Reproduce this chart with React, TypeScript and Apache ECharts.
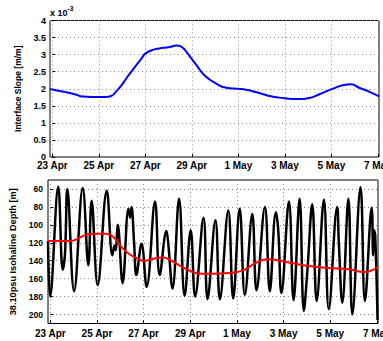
import React, { useEffect, useRef } from "react";
import * as echarts from "echarts";

// x positions are days after 23 Apr (0 = 23 Apr, 14 = 7 May)
const tickDays = [0, 2, 4, 6, 8, 10, 12, 14];
const tickLabels = ["23 Apr", "25 Apr", "27 Apr", "29 Apr", "1 May", "3 May", "5 May", "7 May"];

// Interface slope, in units of 1e-3 m/m
const slopeDays = [-0.1, 0, 0.5, 1.0, 1.3, 1.7, 2.0, 2.3, 2.5, 2.76, 3.0, 3.18, 3.4, 3.62, 3.85, 4.0, 4.33, 4.6, 4.9, 5.1, 5.34, 5.5, 5.7, 5.91, 6.2, 6.55, 7.05, 7.48, 7.98, 8.34, 8.7, 9.06, 9.4, 9.77, 10.34, 10.7, 11.06, 11.49, 11.99, 12.49, 12.85, 13.2, 13.64, 14.05];
const slopeValues = [1.99, 1.98, 1.91, 1.83, 1.77, 1.76, 1.76, 1.76, 1.78, 1.93, 2.12, 2.3, 2.5, 2.7, 2.9, 3.03, 3.14, 3.18, 3.21, 3.23, 3.27, 3.25, 3.14, 2.95, 2.69, 2.39, 2.15, 2.03, 2.0, 1.97, 1.91, 1.84, 1.78, 1.74, 1.7, 1.7, 1.73, 1.84, 1.98, 2.1, 2.13, 2.03, 1.91, 1.78];

// 38.10 psu isohaline depth (m), raw
const depthDays = [-0.1, -0.01, 0.34, 0.53, 0.63, 0.73, 1.02, 1.39, 1.63, 1.77, 2.03, 2.42, 2.66, 2.75, 2.8, 2.89, 3.1, 3.35, 3.42, 3.48, 3.59, 3.69, 3.91, 4.13, 4.49, 4.69, 4.98, 5.05, 5.24, 5.52, 5.76, 6.02, 6.21, 6.57, 6.74, 7.08, 7.27, 7.63, 7.84, 8.12, 8.34, 8.66, 8.84, 9.2, 9.41, 9.67, 9.77, 9.91, 10.23, 10.43, 10.69, 10.87, 11.02, 11.23, 11.42, 11.73, 11.94, 12.3, 12.37, 12.52, 12.78, 12.95, 13.3, 13.49, 13.78, 13.84, 13.88, 13.93, 14.03];
const depthValues = [118, 180, 57.5, 150, 132, 60, 174, 59, 145, 73, 167, 62, 134, 123, 128, 100, 165, 82, 92, 80, 119, 156, 121, 169, 74, 156, 107, 119, 171, 71, 179, 106, 180, 92, 183, 95, 183, 84, 182, 82, 178, 88, 173, 80, 174, 86, 105, 176, 74, 184, 71, 196, 152, 77, 185, 72, 194, 80, 120, 187, 71, 200, 58, 185, 81, 134, 106, 112, 206];

// low-passed depth (m)
const filtDays = [-0.1, 0.84, 1.13, 1.56, 1.99, 2.35, 2.7, 3.06, 3.35, 3.73, 4.02, 4.45, 4.81, 5.16, 5.59, 6.02, 6.45, 6.95, 7.77, 8.34, 8.77, 9.34, 9.77, 10.34, 11.09, 11.94, 12.8, 13.45, 13.81, 14.03];
const filtValues = [118, 118, 116, 111, 110, 110, 113.5, 125, 132, 137.5, 140, 137.5, 136.5, 139.5, 146, 151.5, 154.5, 154.5, 153.5, 150, 143, 138.5, 139.5, 142.5, 146, 148, 149.5, 152.5, 150.5, 147];

const FONT = "Liberation Sans, Arial, Helvetica, sans-serif";

export default function App() {
  const ref = useRef<HTMLDivElement>(null);
  useEffect(() => {
    if (!ref.current) return;
    const chart = echarts.init(ref.current, undefined, { renderer: "svg" });

    const XMIN = -0.1, XMAX = 14.05;
    const XSPAN = XMAX - XMIN;
    const LABEL_XMAX = 16; // label axis runs past the frame so that "7 May" is not the end label
    // top panel frame
    const L1 = 50, W1 = 329, T1 = 20.5, H1 = 136.5;
    // bottom panel frame
    const L2 = 48, W2 = 330, T2 = 180, H2 = 143.5;
    const YMIN = 50, YMAX = 210;
    const DMIN = 60, DMAX = 200;

    const gridStyle = { type: [1, 3] as any, color: "#8a8a8a", width: 1 };
    const tickLabelFmt = (v: number) => {
      const i = tickDays.indexOf(Math.round(v * 1000) / 1000);
      return i >= 0 ? tickLabels[i] : "";
    };
    const hiddenX = (grid: number) => ({ type: "value", gridIndex: grid, min: XMIN, max: XMAX, show: false });
    const hiddenY = (grid: number, min = 0, max = 1, inverse = false) => ({ type: "value", gridIndex: grid, min, max, inverse, show: false });
    const labelX = (grid: number, margin: number) => ({
      type: "value",
      gridIndex: grid,
      min: 0,
      max: LABEL_XMAX,
      interval: 2,
      axisLine: { show: false },
      axisTick: { show: true, inside: true, length: 3, lineStyle: { color: "#000" } },
      axisLabel: {
        formatter: tickLabelFmt,
        color: "#000",
        fontWeight: "bold",
        fontSize: 10,
        fontFamily: FONT,
        margin,
        hideOverlap: false,
        alignMinLabel: "center",
        alignMaxLabel: "center",
      },
      splitLine: { show: true, lineStyle: gridStyle },
    });
    const base = { outerBoundsMode: "none", containLabel: false };

    const option: any = {
      animation: false,
      backgroundColor: "#fff",
      grid: [
        { ...base, left: L1, top: T1, width: W1, height: H1, show: true, borderColor: "#000", borderWidth: 1, backgroundColor: "transparent" },
        { ...base, left: L1 + ((0 - XMIN) / XSPAN) * W1, top: T1, width: (LABEL_XMAX / XSPAN) * W1, height: H1 },
        { ...base, left: L2, top: T2, width: W2, height: H2, show: true, borderColor: "#000", borderWidth: 1, backgroundColor: "transparent" },
        { ...base, left: L2 + ((0 - XMIN) / XSPAN) * W2, top: T2, width: (LABEL_XMAX / XSPAN) * W2, height: H2 },
        { ...base, left: L2, top: T2 + ((DMIN - YMIN) / (YMAX - YMIN)) * H2, width: W2, height: ((DMAX - DMIN) / (YMAX - YMIN)) * H2 },
      ],
      xAxis: [hiddenX(0), labelX(1, 3), hiddenX(2), labelX(3, 4.5), hiddenX(4)],
      yAxis: [
        {
          type: "value",
          gridIndex: 0,
          min: 0,
          max: 4,
          interval: 0.5,
          axisLine: { show: false },
          axisTick: { show: true, inside: true, length: 3, lineStyle: { color: "#000" } },
          axisLabel: { color: "#000", fontWeight: "bold", fontSize: 9, fontFamily: FONT, margin: 4 },
          splitLine: { show: true, lineStyle: gridStyle },
          name: "Interface Slope [m/m]",
          nameLocation: "middle",
          nameGap: 24,
          nameTextStyle: { color: "#000", fontWeight: "bold", fontSize: 8.5, fontFamily: FONT },
        },
        hiddenY(1),
        hiddenY(2, YMIN, YMAX, true),
        hiddenY(3),
        {
          type: "value",
          gridIndex: 4,
          min: DMIN,
          max: DMAX,
          interval: 20,
          inverse: true,
          axisLine: { show: false },
          axisTick: { show: true, inside: true, length: 3, lineStyle: { color: "#000" } },
          axisLabel: { color: "#000", fontWeight: "bold", fontSize: 8.5, fontFamily: FONT, margin: 5 },
          splitLine: { show: true, lineStyle: gridStyle },
          name: "38.10psu Isohaline Depth [m]",
          nameLocation: "middle",
          nameGap: 23,
          nameTextStyle: { color: "#000", fontWeight: "bold", fontSize: 9.2, fontFamily: FONT },
        },
      ],
      graphic: [
        { type: "text", left: 50, top: 8, style: { text: "x 10", font: `bold 9px ${FONT}`, fill: "#000" } },
        { type: "text", left: 67.5, top: 4.5, style: { text: "-3", font: `bold 6.5px ${FONT}`, fill: "#000" } },
      ],
      series: [
        {
          type: "line",
          xAxisIndex: 0,
          yAxisIndex: 0,
          data: slopeDays.map((d, i) => [d, slopeValues[i]]),
          smooth: true,
          symbol: "none",
          lineStyle: { color: "#0000ff", width: 2 },
        },
        {
          type: "line",
          xAxisIndex: 2,
          yAxisIndex: 2,
          data: depthDays.map((d, i) => [d, depthValues[i]]),
          smooth: 0.4,
          symbol: "none",
          lineStyle: { color: "#000", width: 2.5 },
        },
        {
          type: "line",
          xAxisIndex: 2,
          yAxisIndex: 2,
          data: filtDays.map((d, i) => [d, filtValues[i]]),
          smooth: true,
          symbol: "none",
          lineStyle: { color: "#ff0000", width: 2 },
        },
      ],
    };
    chart.setOption(option);
    return () => chart.dispose();
  }, []);
  return <div ref={ref} style={{ position: "absolute", left: 0, top: 0, width: 383, height: 341 }} />;
}
